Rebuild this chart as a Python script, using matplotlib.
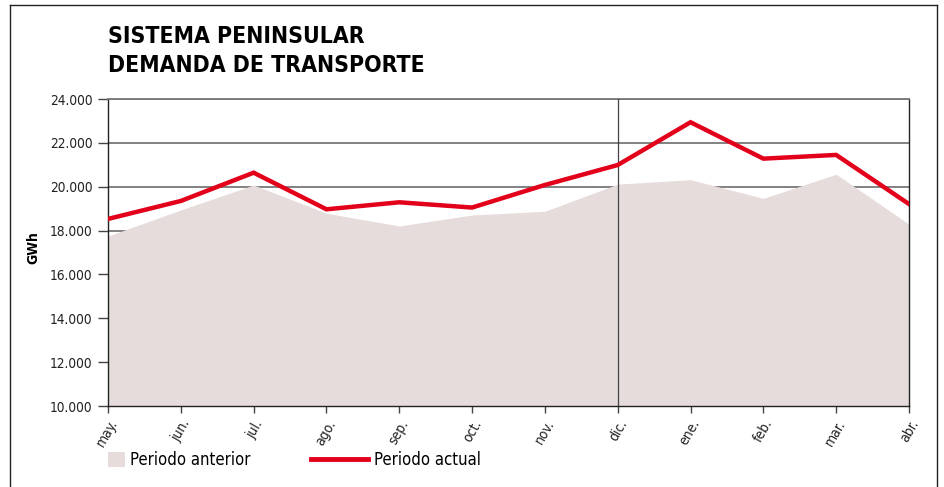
#!/usr/bin/env python3
import matplotlib
matplotlib.use("Agg")
import matplotlib.pyplot as plt
from matplotlib.lines import Line2D
from matplotlib.patches import Patch
from matplotlib.ticker import FuncFormatter

# data (GWh)
months = ["may.", "jun.", "jul.", "ago.", "sep.", "oct.", "nov.",
          "dic.", "ene.", "feb.", "mar.", "abr."]
periodo_anterior = [17750, 18940, 20080, 18790, 18210, 18710, 18880,
                    20120, 20320, 19470, 20570, 18290]
periodo_actual = [18530, 19350, 20640, 18970, 19290, 19050, 20080,
                  20990, 22940, 21280, 21450, 19210]
y_ticks = [10000, 12000, 14000, 16000, 18000, 20000, 22000, 24000]

plt.rcParams["font.family"] = ["DejaVu Sans"]
plt.rcParams["font.stretch"] = "condensed"

RED = "#e2001a"
AREA = "#e6dcdb"

fig = plt.figure(figsize=(9.44, 4.87), dpi=100)
ax = fig.add_axes([108 / 944, 1 - 406 / 487, 801 / 944, 307 / 487])

x = list(range(len(months)))
ax.fill_between(x, 10000, periodo_anterior, color=AREA, lw=0, zorder=2)
ax.plot(x, periodo_actual, color=RED, lw=3.2, solid_joinstyle="miter", zorder=4)
ax.axvline(months.index("dic."), color="#444444", lw=0.9, zorder=3)

ax.set_xlim(0, len(months) - 1)
ax.set_ylim(10000, 24000)
ax.set_yticks(y_ticks)
ax.yaxis.set_major_formatter(FuncFormatter(lambda v, p: f"{int(v):,}".replace(",", ".")))
ax.set_xticks(x)
ax.set_xticklabels(months, rotation=60, ha="right", va="top", rotation_mode="anchor")
ax.grid(axis="y", color="#777777", lw=1.3, zorder=1)
ax.set_axisbelow(True)

ax.tick_params(axis="y", length=7, width=1, color="#444444", labelsize=9.8,
               labelcolor="#222222", pad=4)
ax.tick_params(axis="x", length=5, width=1, color="#444444", labelsize=10,
               labelcolor="#222222", pad=3)
for s in ["left", "bottom", "right"]:
    ax.spines[s].set_color("#222222")
    ax.spines[s].set_linewidth(1)
ax.spines["top"].set_color("#777777")
ax.spines["top"].set_linewidth(1.3)

ax.set_ylabel("GWh", fontsize=10, fontweight="bold")
ax.yaxis.set_label_coords(-68 / 801, 0.515)

fig.text(108 / 944, 1 - 25 / 487, "SISTEMA PENINSULAR\nDEMANDA DE TRANSPORTE",
         fontsize=16.5, fontweight="bold", va="top", ha="left", linespacing=1.36)

# legend: square patch and long red line, placed as in the reference
fig.legend(handles=[Patch(facecolor=AREA, edgecolor="none", label="Periodo anterior")],
           loc="center left", bbox_to_anchor=(108 / 944, 1 - 460 / 487),
           frameon=False, fontsize=12, handlelength=1.0, handleheight=1.0,
           handletextpad=0.3, borderpad=0, borderaxespad=0)
fig.legend(handles=[Line2D([0], [0], color=RED, lw=3.5, label="Periodo actual")],
           loc="center left", bbox_to_anchor=(311 / 944, 1 - 460 / 487),
           frameon=False, fontsize=12, handlelength=3.4,
           handletextpad=0.4, borderpad=0, borderaxespad=0)

# outer frame
fig.add_artist(Line2D([10 / 944, 10 / 944], [0, 1 - 5 / 487], color="#222222", lw=1))
fig.add_artist(Line2D([10 / 944, 937 / 944], [1 - 5 / 487, 1 - 5 / 487], color="#222222", lw=1))
fig.add_artist(Line2D([937 / 944, 937 / 944], [0, 1 - 5 / 487], color="#222222", lw=1))

fig.savefig("out.png", dpi=100)
